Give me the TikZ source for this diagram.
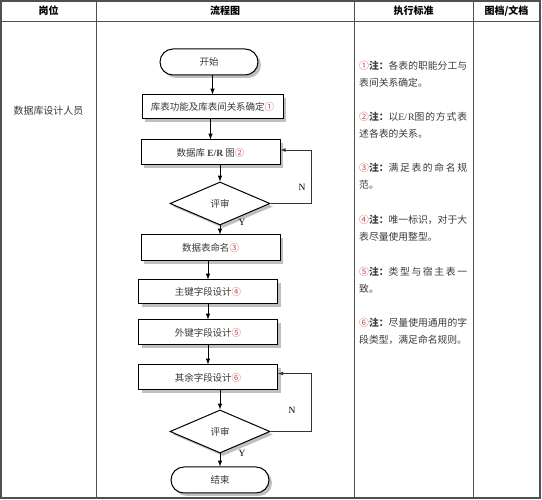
\documentclass[tikz,border=0pt]{standalone}
\usepackage{fontspec}
\setmainfont{Liberation Serif}
\newfontfamily\cjk{Noto Sans CJK SC}
\usetikzlibrary{shapes.geometric,shadows}
\XeTeXlinebreaklocale "zh"
\XeTeXlinebreakskip=0pt plus 2pt
\definecolor{tblline}{HTML}{505050}
\definecolor{numred}{HTML}{D04A50}
\definecolor{txtgray}{HTML}{3A3A3A}
\newcommand{\cnum}[1]{\textcolor{numred}{#1}}
\newcommand{\nnum}[1]{\makebox[1em][l]{\textcolor{numred}{#1}}}

\begin{document}
\begin{tikzpicture}[x=1pt, y=-1pt, >=latex,
  flowbox/.style={draw, line width=1pt, fill=white, minimum width=139pt, minimum height=25pt, inner sep=0pt,
    font=\cjk\fontsize{9.5}{11}\selectfont, text=txtgray,
    drop shadow={shadow xshift=3pt, shadow yshift=-3pt, fill=black!50}},
  term/.style={flowbox, rounded corners=13pt, minimum width=98pt, minimum height=26pt},
  decide/.style={flowbox, diamond, minimum width=100pt, minimum height=43pt},
  head/.style={font=\cjk\bfseries\fontsize{10}{12}\selectfont},
  note/.style={anchor=north west, text width=108pt, align=justify, inner sep=0pt,
    font=\cjk\fontsize{9.8}{17}\selectfont, text=txtgray},
  lbl/.style={font=\fontsize{9.5}{11}\selectfont, inner sep=1pt},
  arr/.style={->, line width=1pt},
  loopline/.style={->, line width=0.8pt, draw=black!80}]

\fill[white] (0,0) rectangle (542,500);
\useasboundingbox (0,0) rectangle (542,500);

% Table
\draw[tblline, line width=1.4pt] (1,1) rectangle (540,498);
\draw[tblline, line width=1pt] (1,22) -- (540,22);
\draw[tblline, line width=1pt] (96,1) -- (96,498);
\draw[tblline, line width=1pt] (354,1) -- (354,498);
\draw[tblline, line width=1pt] (473,1) -- (473,498);

% Header
\node[head] (h1) at (48.5,11) {岗位};
\node[head] (h2) at (225,11) {流程图};
\node[head] (h3) at (413.5,11) {执行标准};
\node[head] (h4) at (506.5,11) {图档/文档};

% Post
\node[font=\cjk\fontsize{10}{12}\selectfont, text=txtgray] (post) at (48.5,111) {数据库设计人员};

% Flow chart
\node[term] (start) at (209,62) {开始};
\node[flowbox, minimum width=141pt, minimum height=24pt] (b1) at (212.5,107) {库表功能及库表间关系确定\cnum{①}};
\node[flowbox] (b2) at (210.5,152.5) {数据库 {\rmfamily\bfseries E/R} 图\cnum{②}};
\node[decide] (d1) at (220,203.5) {评审};
\node[flowbox, minimum height=26pt] (b3) at (210.5,248) {数据表命名\cnum{③}};
\node[flowbox, minimum height=24pt] (b4) at (208,292) {主键字段设计\cnum{④}};
\node[flowbox] (b5) at (208,332.5) {外键字段设计\cnum{⑤}};
\node[flowbox] (b6) at (208,377.5) {其余字段设计\cnum{⑥}};
\node[decide] (d2) at (220,431.5) {评审};
\node[term] (end) at (220,480) {结束};

% Labels
\node[lbl] (labN1) at (302,187) {N};
\node[lbl] (labY1) at (242,222) {Y};
\node[lbl] (labN2) at (292,410) {N};
\node[lbl] (labY2) at (242,453) {Y};

% Arrows
\draw[arr] (start.south -| b1) -- (b1.north);
\draw[arr] (b1.south -| b2) -- (b2.north);
\draw[arr] (b2.south -| d1) -- (d1.north);
\draw[arr] (d1.south) -- (d1.south |- b3.north);
\draw[arr] (b3.south -| b4) -- (b4.north);
\draw[arr] (b4.south -| b5) -- (b5.north);
\draw[arr] (b5.south -| b6) -- (b6.north);
\draw[arr] (b6.south -| d2) -- (d2.north);
\draw[arr] (d2.south) -- (d2.south |- end.north);
\draw[loopline] (d1.east) -- ++(41,0) |- ([yshift=2.5pt]b2.east);
\draw[loopline] (d2.east) -- ++(41,0) |- ([yshift=4pt]b6.east);

% Notes
\node[note] (note1) at (359,61) {\nnum{①}\textbf{注：}各表的职能分工与表间关系确定。};
\node[note] (note2) at (359,112) {\nnum{②}\textbf{注：}以{\rmfamily E/R}图的方式表述各表的关系。};
\node[note] (note3) at (359,163) {\nnum{③}\textbf{注：}满足表的命名规范。};
\node[note] (note4) at (359,215) {\nnum{④}\textbf{注：}唯一标识，对于大表尽量使用整型。};
\node[note] (note5) at (359,267) {\nnum{⑤}\textbf{注：}类型与宿主表一致。};
\node[note] (note6) at (359,318) {\nnum{⑥}\textbf{注：}尽量使用通用的字段类型，满足命名规则。};

\end{tikzpicture}
\end{document}
